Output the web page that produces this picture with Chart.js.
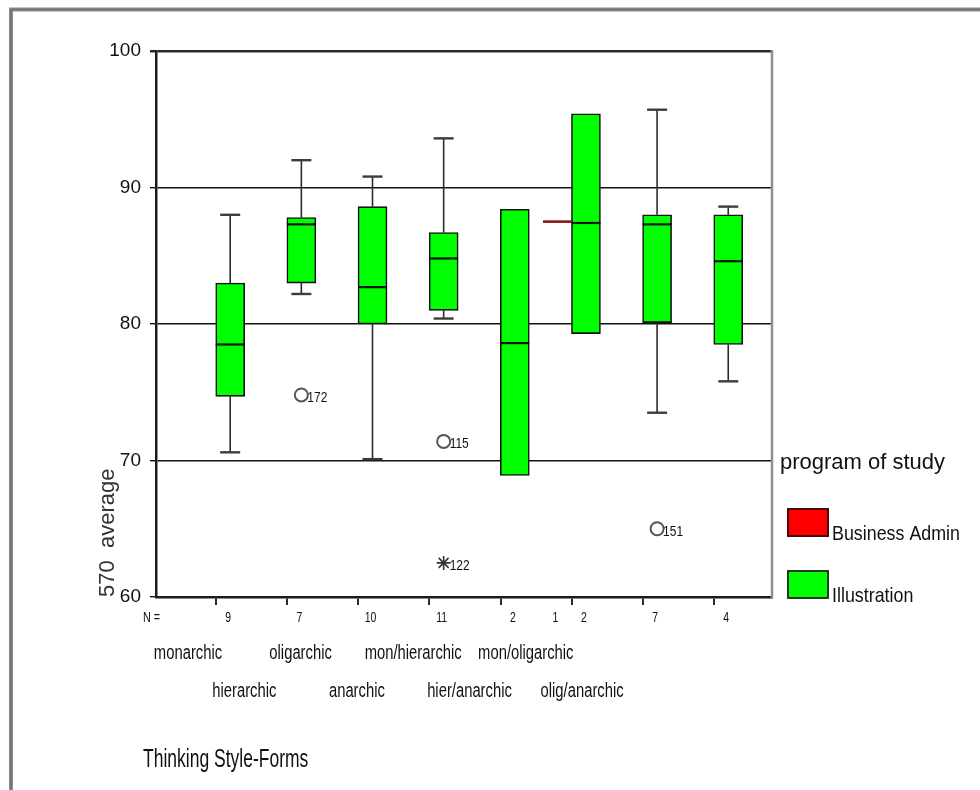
<!DOCTYPE html>
<html>
<head>
<meta charset="utf-8">
<title>570 average by Thinking Style-Forms</title>
<script src="https://cdn.jsdelivr.net/npm/chart.js@4.4.1/dist/chart.umd.min.js"></script>
<style>
  html, body { margin: 0; padding: 0; background: #ffffff; }
  #wrap { position: relative; width: 980px; height: 790px; }
</style>
</head>
<body>
<div id="wrap"><canvas id="chart" width="980" height="790"></canvas></div>
<script>
// ---- data -------------------------------------------------------------
const categories = ['monarchic', 'hierarchic', 'oligarchic', 'anarchic',
                    'mon/hierarchic', 'hier/anarchic', 'mon/oligarchic', 'olig/anarchic'];

// Illustration: five-number summaries per thinking style
const illusMin    = [70.6, 82.2, 70.1, 80.4, 68.9, 79.3, 73.5, 75.8];
const illusQ1     = [74.7, 83.0, 80.0, 81.0, 68.9, 79.3, 80.1, 78.5];
const illusMedian = [78.5, 87.3, 82.7, 84.8, 78.6, 87.4, 87.3, 84.6];
const illusQ3     = [83.0, 87.8, 88.6, 86.7, 88.4, 95.4, 88.0, 88.0];
const illusMax    = [88.0, 92.0, 90.8, 93.6, 88.4, 95.4, 95.7, 88.6];
const illusN      = [9, 7, 10, 11, 2, 2, 7, 4];

// Business Admin: a single case (hier/anarchic)
const busMin    = [null, null, null, null, null, 87.5, null, null];
const busQ1     = [null, null, null, null, null, 87.5, null, null];
const busMedian = [null, null, null, null, null, 87.5, null, null];
const busQ3     = [null, null, null, null, null, 87.5, null, null];
const busMax    = [null, null, null, null, null, 87.5, null, null];
const busN      = [null, null, null, null, null, 1, null, null];

// Outlying cases (Illustration): category index, value, case number
const outlierCat   = [1, 3, 6];
const outlierValue = [74.8, 71.4, 65.0];
const outlierCase  = ['172', '115', '151'];
// Extreme cases
const extremeCat   = [3];
const extremeValue = [62.5];
const extremeCase  = ['122'];

const yTicks = [60, 70, 80, 90, 100];

// ---- look ---------------------------------------------------------------
const SANS = "'Liberation Sans', Arial, sans-serif";
const SHIFT = 0.2;      // offset of each program's box from the category tick
const BOX_W = 29;       // box width in px
const CAP_W = 20;       // whisker cap width in px

const series = [
  { label: 'Business Admin', shift: -SHIFT, min: busMin, q1: busQ1, median: busMedian,
    q3: busQ3, max: busMax, n: busN, fill: '#ff0000', edge: '#5c0a0a', medianColor: '#8a1414' },
  { label: 'Illustration', shift: SHIFT, min: illusMin, q1: illusQ1, median: illusMedian,
    q3: illusQ3, max: illusMax, n: illusN, fill: '#00ff00', edge: '#111111', medianColor: '#111111' }
];

const boxData = s => s.median
  .map((m, i) => (m == null ? null : { x: i + s.shift, y: [s.q1[i], s.q3[i]] }))
  .filter(Boolean);

// draws condensed lettering: full-height glyphs squeezed horizontally
function putText(ctx, str, px, py, size, squeeze, opts) {
  const o = opts || {};
  ctx.save();
  ctx.translate(px, py);
  ctx.scale(squeeze, 1);
  ctx.font = size + 'px ' + SANS;
  ctx.textAlign = o.align || 'left';
  ctx.textBaseline = 'alphabetic';
  ctx.fillStyle = o.color || '#111111';
  ctx.fillText(str, 0, 0);
  ctx.restore();
}

// ---- plugins ------------------------------------------------------------
const framePlugin = {
  id: 'frame',
  beforeDraw(chart) {
    const { ctx, width, height } = chart;
    ctx.save();
    ctx.fillStyle = '#ffffff';
    ctx.fillRect(0, 0, width, height);
    ctx.strokeStyle = '#8c8c8c';
    ctx.lineWidth = 4;
    ctx.beginPath();
    ctx.moveTo(11, height);
    ctx.lineTo(11, 9.5);
    ctx.lineTo(width, 9.5);
    ctx.stroke();
    ctx.strokeStyle = '#6e6e6e';
    ctx.lineWidth = 1.5;
    ctx.stroke();
    ctx.restore();
  }
};

const boxPlotPlugin = {
  id: 'boxPlot',
  beforeDatasetsDraw(chart) {
    const { ctx, scales: { x, y }, chartArea } = chart;
    ctx.save();
    // right frame of the plot
    ctx.strokeStyle = '#8f8f8f';
    ctx.lineWidth = 2.5;
    ctx.beginPath();
    ctx.moveTo(chartArea.right, chartArea.top - 1);
    ctx.lineTo(chartArea.right, chartArea.bottom + 1);
    ctx.stroke();
    // whiskers
    series.forEach(s => {
      s.median.forEach((m, i) => {
        if (m == null) return;
        const cx = x.getPixelForValue(i + s.shift);
        const stem = (a, b) => {
          ctx.strokeStyle = '#2b2b2b';
          ctx.lineWidth = 1.6;
          ctx.beginPath();
          ctx.moveTo(cx, y.getPixelForValue(a));
          ctx.lineTo(cx, y.getPixelForValue(b));
          ctx.stroke();
        };
        const cap = v => {
          ctx.strokeStyle = '#3c3c3c';
          ctx.lineWidth = 2.4;
          ctx.beginPath();
          ctx.moveTo(cx - CAP_W / 2, y.getPixelForValue(v));
          ctx.lineTo(cx + CAP_W / 2, y.getPixelForValue(v));
          ctx.stroke();
        };
        if (s.max[i] > s.q3[i]) { stem(s.q3[i], s.max[i]); cap(s.max[i]); }
        if (s.min[i] < s.q1[i]) { stem(s.q1[i], s.min[i]); cap(s.min[i]); }
      });
    });
    ctx.restore();
  },
  afterDatasetsDraw(chart) {
    const { ctx, scales: { x, y } } = chart;
    ctx.save();
    series.forEach(s => {
      s.median.forEach((m, i) => {
        if (m == null) return;
        const cx = x.getPixelForValue(i + s.shift);
        const my = y.getPixelForValue(m);
        ctx.strokeStyle = s.medianColor;
        ctx.lineWidth = s.n[i] === 1 ? 2.6 : 2.2;
        ctx.beginPath();
        ctx.moveTo(cx - BOX_W / 2, my);
        ctx.lineTo(cx + BOX_W / 2, my);
        ctx.stroke();
      });
    });
    ctx.restore();
  }
};

const textPlugin = {
  id: 'texts',
  afterDraw(chart) {
    const { ctx, chartArea, scales: { x } } = chart;

    // group sizes under the axis
    const nY = chartArea.bottom + 25;
    putText(ctx, 'N =', chartArea.left - 13, nY, 15, 0.72);
    series.forEach(s => {
      s.n.forEach((n, i) => {
        if (n == null) return;
        putText(ctx, String(n), x.getPixelForValue(i + s.shift) - 2, nY, 15, 0.7, { align: 'center' });
      });
    });

    // category names, staggered in two rows
    categories.forEach((c, i) => {
      const row = i % 2;
      putText(ctx, c, chartArea.left + 32 + i * 56.3, chartArea.bottom + 62 + row * 38, 20, 0.74,
              { align: 'center' });
    });

    // axis title
    putText(ctx, 'Thinking Style-Forms', chartArea.left - 13, chartArea.bottom + 170, 25, 0.7);

    // case numbers beside outlying points
    const label = (dsIndex, ids) => {
      chart.getDatasetMeta(dsIndex).data.forEach((pt, j) => {
        putText(ctx, ids[j], pt.x + 6, pt.y + 7, 15, 0.8);
      });
    };
    label(2, outlierCase);
    label(3, extremeCase);

    // legend
    const lx = chartArea.right;
    const lb = chartArea.bottom;
    putText(ctx, 'program of study', lx + 8, lb - 128, 22, 1);
    ctx.save();
    series.forEach((s, k) => {
      const top = k === 0 ? lb - 88 : lb - 26;
      ctx.fillStyle = s.fill;
      ctx.fillRect(lx + 16, top, 40, 27);
      ctx.strokeStyle = k === 0 ? '#4a0808' : '#1d3a1d';
      ctx.lineWidth = 2;
      ctx.strokeRect(lx + 16, top, 40, 27);
      putText(ctx, s.label, lx + 60, top + 31, 21, 0.85);
    });
    ctx.restore();
  }
};

// ---- chart --------------------------------------------------------------
Chart.defaults.font.family = SANS;
Chart.defaults.color = '#111111';

new Chart(document.getElementById('chart'), {
  type: 'bar',
  data: {
    datasets: [
      {
        label: series[0].label,
        data: boxData(series[0]),
        backgroundColor: series[0].fill,
        borderColor: series[0].edge,
        borderWidth: 1.6,
        borderSkipped: false,
        grouped: false,
        barThickness: BOX_W
      },
      {
        label: series[1].label,
        data: boxData(series[1]),
        backgroundColor: series[1].fill,
        borderColor: series[1].edge,
        borderWidth: 1.6,
        borderSkipped: false,
        grouped: false,
        barThickness: BOX_W
      },
      {
        type: 'scatter',
        label: 'outliers',
        data: outlierCat.map((c, j) => ({ x: c + SHIFT, y: outlierValue[j] })),
        pointStyle: 'circle',
        pointRadius: 6.5,
        borderWidth: 2,
        borderColor: '#555555',
        backgroundColor: 'rgba(255,255,255,0)'
      },
      {
        type: 'scatter',
        label: 'extremes',
        data: extremeCat.map((c, j) => ({ x: c + SHIFT, y: extremeValue[j] })),
        pointStyle: 'star',
        pointRadius: 7,
        borderWidth: 1.6,
        borderColor: '#333333'
      }
    ]
  },
  options: {
    responsive: false,
    animation: false,
    events: [],
    layout: { padding: { left: 90, top: 51, right: 208, bottom: 173 } },
    plugins: {
      legend: { display: false },
      tooltip: { enabled: false },
      title: { display: false }
    },
    scales: {
      x: {
        type: 'linear',
        position: 'bottom',
        offset: false,
        min: -0.843,
        max: 7.815,
        afterBuildTicks: s => { s.ticks = categories.map((c, i) => ({ value: i })); },
        afterFit: s => { s.height = 20; },
        ticks: { display: false },
        grid: {
          display: true,
          offset: false,
          drawOnChartArea: false,
          drawTicks: true,
          tickLength: 8,
          color: '#2a2a2a',
          lineWidth: 2
        },
        border: { display: true, color: '#1c1c1c', width: 2.5 }
      },
      y: {
        type: 'linear',
        min: 60,
        max: 100,
        afterBuildTicks: s => { s.ticks = yTicks.map(v => ({ value: v })); },
        afterFit: s => { s.width = 66; },
        ticks: {
          padding: 9,
          font: { size: 19, family: SANS },
          color: '#111111'
        },
        grid: {
          drawTicks: true,
          tickLength: 6,
          color: ctx => (ctx.tick && ctx.tick.value === 100 ? '#2a2a2a' : '#111111'),
          lineWidth: ctx => (ctx.tick && ctx.tick.value === 100 ? 2.5 : 1.4)
        },
        border: { display: true, color: '#1c1c1c', width: 2.5 },
        title: {
          display: true,
          text: '570  average',
          align: 'start',
          color: '#333333',
          font: { size: 22, family: SANS },
          padding: { top: 5, bottom: 0 }
        }
      }
    }
  },
  plugins: [framePlugin, boxPlotPlugin, textPlugin]
});
</script>
</body>
</html>
